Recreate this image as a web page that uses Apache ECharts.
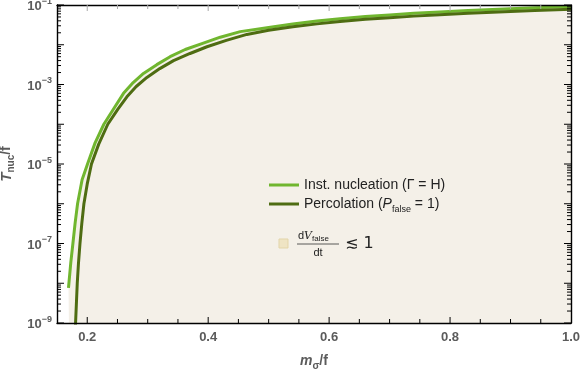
<!DOCTYPE html>
<html>
<head>
<meta charset="utf-8">
<script src="https://cdn.jsdelivr.net/npm/echarts@6/dist/echarts.min.js"></script>
<style>
	html, body { margin: 0; padding: 0; background: #fff; }
	#main { width: 581px; height: 369px; }
</style>
</head>
<body>
<div id="main"></div>
<script>
	// Inst. nucleation (Gamma = H)
	var instX = [0.169, 0.1697, 0.1728, 0.1763, 0.18, 0.184, 0.1915, 0.2005, 0.213, 0.2275, 0.244, 0.26, 0.276, 0.293, 0.315, 0.337, 0.362, 0.392, 0.42, 0.453, 0.5, 0.54, 0.58, 0.618, 0.66, 0.7, 0.74, 0.783, 0.83, 0.88, 0.94, 1.0];
	var instY = [7.6e-9, 1.0e-8, 3.3e-8, 1.0e-7, 3.3e-7, 1.0e-6, 4.0e-6, 1.0e-5, 3.4e-5, 1.0e-4, 2.5e-4, 6.0e-4, 1.12e-3, 1.9e-3, 3.16e-3, 5.0e-3, 7.6e-3, 1.1e-2, 1.55e-2, 2.14e-2, 2.72e-2, 3.31e-2, 3.94e-2, 4.52e-2, 5.13e-2, 5.62e-2, 6.17e-2, 6.68e-2, 7.24e-2, 7.85e-2, 8.51e-2, 9.12e-2];
	// Percolation (P_false = 1)
	var percX = [0.18, 0.1807, 0.1835, 0.1855, 0.188, 0.191, 0.1945, 0.2, 0.207, 0.219, 0.234, 0.2507, 0.2656, 0.281, 0.2987, 0.32, 0.3427, 0.37, 0.398, 0.43, 0.464, 0.5, 0.54, 0.58, 0.618, 0.66, 0.7, 0.74, 0.783, 0.83, 0.88, 0.94, 1.0];
	var percY = [5.0e-10, 1.0e-9, 1.0e-8, 3.16e-8, 1.0e-7, 3.16e-7, 1.0e-6, 3.16e-6, 1.0e-5, 3.16e-5, 1.0e-4, 2.4e-4, 4.9e-4, 8.9e-4, 1.51e-3, 2.51e-3, 3.98e-3, 6.03e-3, 8.91e-3, 1.29e-2, 1.82e-2, 2.32e-2, 2.82e-2, 3.35e-2, 3.85e-2, 4.37e-2, 4.79e-2, 5.25e-2, 5.69e-2, 6.17e-2, 6.68e-2, 7.24e-2, 7.85e-2];

	var xTickLabels = [0.2, 0.4, 0.6, 0.8, 1.0];
	var yTickExponents = [-9, -7, -5, -3, -1];

	var xMin = 0.15, xMax = 1.0, yMin = 1e-9, yMax = 1e-1;
	var labelColor = '#5b5b5b';
	var lightGreen = '#70b62f';
	var darkGreen = '#4e6c12';
	var beige = '#f4f0e8';

	function pairs(xs, ys) {
		var out = [];
		for (var i = 0; i < xs.length; i++) out.push([xs[i], ys[i]]);
		return out;
	}

	var myChart = echarts.init(document.getElementById('main'));

	// legend entry for the shaded region (drawn as graphic)
	var regionLegend = [{
		type: 'rect', z: 100, shape: { x: 279, y: 239, width: 9, height: 9 },
		style: { fill: '#efe4c4', stroke: '#e3d5a9', lineWidth: 1 }
	}, {
		type: 'text', z: 100, x: 298, y: 229,
		style: {
			text: '{n|d}{v|V}{s|false}',
			rich: {
				n: { fontSize: 11, fill: '#222', verticalAlign: 'middle', lineHeight: 14 },
				v: { fontSize: 11, fill: '#222', fontStyle: 'italic', fontFamily: 'DejaVu Serif', verticalAlign: 'middle', lineHeight: 14 },
				s: { fontSize: 8, fill: '#222', verticalAlign: 'bottom', lineHeight: 8 }
			}
		}
	}, {
		type: 'line', z: 100, shape: { x1: 297, y1: 244, x2: 339, y2: 244 },
		style: { stroke: '#333', lineWidth: 0.8 }
	}, {
		type: 'text', z: 100, x: 318, y: 253,
		style: { text: 'dt', fontSize: 11, fill: '#222', align: 'center', verticalAlign: 'middle' }
	}, {
		type: 'text', z: 100, x: 345, y: 244,
		style: { text: '≲ 1', fontSize: 16, fill: '#222', verticalAlign: 'middle', fontFamily: 'DejaVu Sans' }
	}];

	var option = {
		animation: false,
		textStyle: { fontFamily: 'Liberation Sans' },
		grid: { left: 57, right: 10, top: 5, bottom: 46, containLabel: false, outerBoundsMode: 'none' },
		xAxis: [{
			type: 'value', min: xMin, max: xMax, interval: 0.05, position: 'bottom', z: 10,
			axisLine: { show: true, lineStyle: { color: '#000', width: 1.4 } },
			axisTick: { show: false },
			axisLabel: {
				show: true, interval: 0, hideOverlap: false, margin: 8,
				color: labelColor, fontWeight: 'bold', fontSize: 13,
				formatter: function(v) {
					for (var i = 0; i < xTickLabels.length; i++) {
						if (Math.abs(v - xTickLabels[i]) < 1e-6) return xTickLabels[i].toFixed(1);
					}
					return '';
				}
			},
			splitLine: { show: false },
			name: '{i|m}{s|σ}{n|/f}',
			nameLocation: 'middle', nameGap: 28,
			nameTextStyle: {
				rich: {
					i: { fontSize: 14, fontStyle: 'italic', fontWeight: 'bold', color: labelColor, verticalAlign: 'middle', lineHeight: 20 },
					s: { fontSize: 10, fontWeight: 'bold', color: labelColor, verticalAlign: 'bottom', lineHeight: 12 },
					n: { fontSize: 14, fontWeight: 'bold', color: labelColor, verticalAlign: 'middle', lineHeight: 20 }
				}
			}
		}, {
			type: 'value', min: xMin, max: xMax, position: 'top', z: 10,
			axisLine: { show: true, lineStyle: { color: '#000', width: 1.4 } },
			axisTick: { show: false },
			axisLabel: { show: false },
			splitLine: { show: false }
		}],
		yAxis: [{
			type: 'log', logBase: 10, min: yMin, max: yMax, interval: 1, position: 'left', z: 10,
			axisLine: { show: true, lineStyle: { color: '#000', width: 1.4 } },
			axisTick: { show: false },
			axisLabel: {
				show: true, interval: 0, hideOverlap: false, margin: 5,
				formatter: function(v) {
					var e = Math.round(Math.log10(v));
					if (yTickExponents.indexOf(e) < 0) return '';
					return '{b|10}{s|' + (e < 0 ? '\u2212' : '') + Math.abs(e) + '}';
				},
				rich: {
					b: { fontSize: 13, fontWeight: 'bold', color: labelColor, verticalAlign: 'bottom', lineHeight: 16 },
					s: { fontSize: 9, fontWeight: 'bold', color: labelColor, verticalAlign: 'top', lineHeight: 10 }
				}
			},
			splitLine: { show: false },
			name: '{i|T}{s|nuc}{n|/f}',
			nameLocation: 'middle', nameGap: 38, nameRotate: 90,
			nameTextStyle: {
				rich: {
					i: { fontSize: 15, fontStyle: 'italic', fontWeight: 'bold', color: labelColor, verticalAlign: 'middle', lineHeight: 20 },
					s: { fontSize: 10, fontWeight: 'bold', color: labelColor, verticalAlign: 'bottom', lineHeight: 12 },
					n: { fontSize: 14, fontWeight: 'bold', color: labelColor, verticalAlign: 'middle', lineHeight: 20 }
				}
			}
		}, {
			type: 'log', logBase: 10, min: yMin, max: yMax, position: 'right', z: 10,
			axisLine: { show: true, lineStyle: { color: '#000', width: 1.4 } },
			axisTick: { show: false },
			axisLabel: { show: false },
			splitLine: { show: false }
		}],
		legend: {
			orient: 'vertical', left: 264, top: 173, itemGap: 5,
			itemWidth: 30, itemHeight: 3,
			data: [{ name: 'inst', icon: 'rect' }, { name: 'perc', icon: 'rect' }],
			formatter: function(name) {
				if (name === 'inst') return '{t|Inst. nucleation (Γ = H)}';
				return '{t|Percolation (}{i|P}{s|false}{t| = 1)}';
			},
			textStyle: {
				color: '#222',
				rich: {
					t: { fontSize: 14, color: '#222', verticalAlign: 'middle', lineHeight: 20 },
					i: { fontSize: 14, color: '#222', fontStyle: 'italic', verticalAlign: 'middle', lineHeight: 20 },
					s: { fontSize: 9, color: '#222', verticalAlign: 'bottom', lineHeight: 10 }
				}
			}
		},
		graphic: regionLegend,
		series: [{
			name: 'area', type: 'line', silent: true,
			data: pairs(instX, instY),
			symbol: 'none',
			lineStyle: { width: 0 },
			areaStyle: { color: beige, opacity: 1, origin: 'start' },
			z: 1
		}, {
			name: 'inst', type: 'line',
			data: pairs(instX, instY),
			symbol: 'none',
			itemStyle: { color: lightGreen },
			lineStyle: { color: lightGreen, width: 3, join: 'round' },
			z: 3
		}, {
			name: 'perc', type: 'line',
			data: pairs(percX, percY),
			symbol: 'none',
			itemStyle: { color: darkGreen },
			lineStyle: { color: darkGreen, width: 3, join: 'round' },
			z: 3
		}]
	};
	myChart.setOption(option);

	// frame ticks, placed through the chart's own scales
	function px(x, y) {
		return myChart.convertToPixel({ gridIndex: 0 }, [x, y]);
	}
	function tickLine(x1, y1, x2, y2, color) {
		return {
			type: 'line', z: 50, silent: true,
			shape: { x1: x1, y1: y1, x2: x2, y2: y2 },
			style: { stroke: color, lineWidth: 1 }
		};
	}
	var ticks = [];
	for (var i = 4; i <= 19; i++) {
		var xv = i * 0.05;
		var len = (i % 4 === 0) ? 6 : 4;
		var b = px(xv, yMin), t = px(xv, yMax);
		ticks.push(tickLine(b[0], b[1], b[0], b[1] - len, '#000'));
		ticks.push(tickLine(t[0], t[1], t[0], t[1] + len, '#a8a8a8'));
	}
	for (var e = -9; e <= -1; e++) {
		var subs = (e < -1) ? [1, 2, 3, 4, 5, 6, 7, 8, 9] : [1];
		for (var k = 0; k < subs.length; k++) {
			var yv = subs[k] * Math.pow(10, e);
			var ylen = subs[k] === 1 ? 7 : 4;
			var l = px(xMin, yv), r = px(xMax, yv);
			ticks.push(tickLine(l[0], l[1], l[0] + ylen, l[1], '#000'));
			ticks.push(tickLine(r[0], r[1], r[0] - ylen, r[1], '#000'));
		}
	}
	myChart.setOption({ graphic: regionLegend.concat(ticks) });
</script>
</body>
</html>
